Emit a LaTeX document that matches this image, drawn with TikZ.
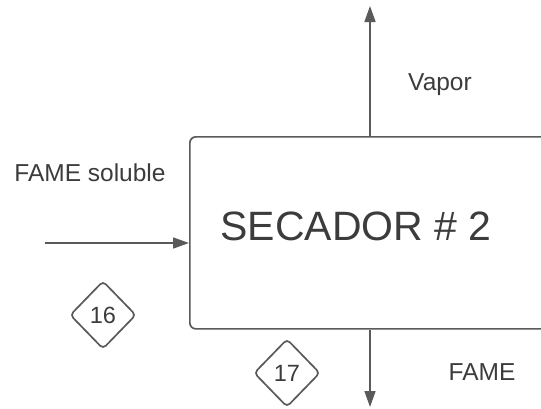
\documentclass[tikz,border=0pt]{standalone}
\usepackage{fontspec}
\setmainfont{Liberation Sans}
\usetikzlibrary{shapes.geometric,arrows.meta}
\definecolor{ln}{HTML}{5A5A5A}
\definecolor{tx}{HTML}{3C3C3C}
\begin{document}
\begin{tikzpicture}[x=1pt,y=-1pt,
  line/.style={draw=ln,line width=1.7pt},
  arr/.style={line,-{Triangle[length=16pt,width=11pt]}},
  lbl/.style={text=tx,font=\fontsize{24.5}{26}\selectfont,inner sep=0pt},
  tag/.style={diamond,draw=ln,line width=1.7pt,rounded corners=4pt,minimum width=66pt,minimum height=68pt,inner sep=0pt,text=tx,font=\fontsize{23.5}{25}\selectfont}]
\useasboundingbox (0,0) rectangle (541,408);
\clip (0,0) rectangle (541,408);
\fill[white] (0,0) rectangle (541,408);
\node[line,rectangle,rounded corners=6pt,minimum width=380pt,minimum height=192pt,inner sep=0pt,anchor=north west] (sec) at (189,136) {};
\node[text=tx,font=\fontsize{41}{44}\selectfont,inner sep=0pt] (title) at (356,226) {SECADOR \# 2};
\coordinate (vtop) at (370,6);
\coordinate (vbot) at (370,407);
\coordinate (fin) at (45,243);
\draw[arr] (sec.north -| vtop) -- (vtop);
\draw[arr] (sec.south -| vbot) -- (vbot);
\draw[arr] (fin) -- (fin -| sec.west);
\node[lbl] (vapor) at (440,85) {Vapor};
\node[lbl] (fsol) at (90,173) {FAME soluble};
\node[lbl] (fame) at (482,372) {FAME};
\node[tag] (t16) at (103,315) {16};
\node[tag] (t17) at (287,373) {17};
\end{tikzpicture}
\end{document}
